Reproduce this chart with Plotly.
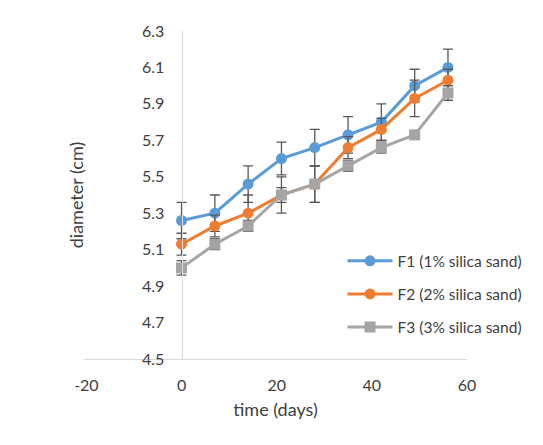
import plotly.graph_objects as go

days = [0, 7, 14, 21, 28, 35, 42, 49, 56]
f1 = [5.26, 5.30, 5.46, 5.60, 5.66, 5.73, 5.80, 6.00, 6.10]
f2 = [5.13, 5.23, 5.30, 5.40, 5.46, 5.66, 5.76, 5.93, 6.03]
f3 = [5.00, 5.13, 5.23, 5.40, 5.46, 5.56, 5.66, 5.73, 5.96]
f1_err = [0.10, 0.10, 0.10, 0.09, 0.10, 0.10, 0.10, 0.09, 0.10]
f2_err = [0.06, 0.06, 0.10, 0.10, 0.10, 0.06, 0.06, 0.10, 0.06]
f3_err = [0.04, 0.03, 0.03, 0.04, 0.10, 0.03, 0.03, 0.02, 0.04]
names = ["F1 (1% silica sand)", "F2 (2% silica sand)", "F3 (3% silica sand)"]
colors = ["#5B9BD5", "#ED7D31", "#A5A5A5"]
symbols = ["circle", "circle", "square"]
x_ticks = [-20, 0, 20, 40, 60]
x_tick_labels = ["-20", "0", "20", "40", "60"]
y_ticks = [4.5, 4.7, 4.9, 5.1, 5.3, 5.5, 5.7, 5.9, 6.1, 6.3]

FONT = "Lato, 'Open Sans', sans-serif"
fig = go.Figure()
for i, (ys, err) in enumerate([(f1, f1_err), (f2, f2_err), (f3, f3_err)]):
    fig.add_trace(go.Scatter(
        x=days, y=ys, name=names[i], mode="lines+markers",
        legendgroup=f"g{i}",
        line=dict(color=colors[i], width=3),
        marker=dict(color=colors[i], size=11, symbol=symbols[i]),
        error_y=dict(type="data", array=err, visible=True,
                     color="#595959", thickness=1.3, width=5),
    ))

x0, x1 = -20.5, 60
fig.update_layout(
    width=543, height=445,
    margin=dict(l=76, r=84, t=23, b=94),
    paper_bgcolor="white", plot_bgcolor="white",
    font=dict(family=FONT, size=15, color="#404040"),
    xaxis=dict(range=[x0, x1], tickvals=x_ticks, ticktext=x_tick_labels,
               showgrid=False, zeroline=False,
               showline=True, linecolor="#D9D9D9", linewidth=1,
               ticks="outside", ticklen=12, tickcolor="rgba(0,0,0,0)",
               tickfont=dict(size=16, color="#404040"),
               title=dict(text="time (days)", font=dict(size=18, color="#404040"), standoff=10)),
    yaxis=dict(range=[4.5, 6.3], tickvals=y_ticks, tickformat=".1f",
               showgrid=False, zeroline=False,
               anchor="free", position=(0 - x0) / (x1 - x0),
               showline=True, linecolor="#D9D9D9", linewidth=1,
               ticks="outside", ticklen=14, tickcolor="rgba(0,0,0,0)",
               tickfont=dict(size=16, color="#404040"),
               title=dict(text="diameter (cm)", font=dict(size=18, color="#404040"), standoff=52)),
    legend=dict(x=0.675, y=0.35, xanchor="left", yanchor="top",
                bgcolor="rgba(0,0,0,0)", tracegroupgap=10, itemwidth=45,
                font=dict(size=15.5, color="#404040")),
    showlegend=True,
)
fig.write_html("out.html")
